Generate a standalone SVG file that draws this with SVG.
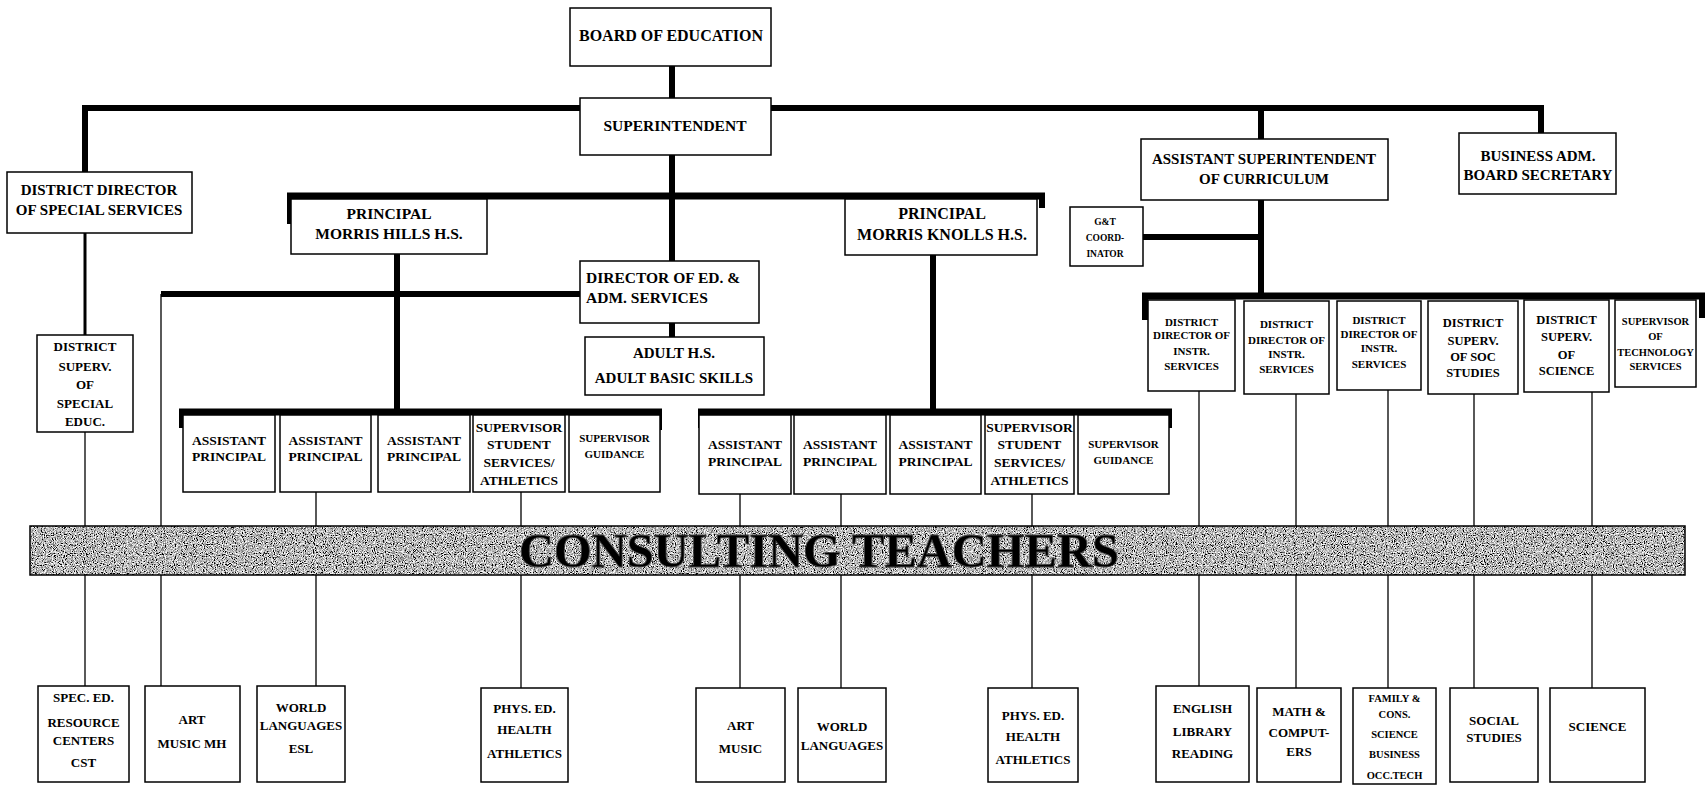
<svg xmlns="http://www.w3.org/2000/svg" width="1707" height="786" viewBox="0 0 1707 786">
<style>
.b{fill:#fff;stroke:#000;stroke-width:1.5}
.t{font-family:"Liberation Serif","Times New Roman",serif;font-weight:bold;fill:#000;text-anchor:middle}
.l{text-anchor:start}
.k{stroke:#000;stroke-width:6;fill:none}
.k7{stroke:#000;stroke-width:7;fill:none}
.m{stroke:#000;stroke-width:3;fill:none}
.n{stroke:#000;stroke-width:1.3;fill:none}
.f16{font-size:16px}.f155{font-size:15.5px}.f15{font-size:15px}.f135{font-size:13.5px}.f13{font-size:13px}
.f125{font-size:12.5px}.f11{font-size:11px}.f105{font-size:10.5px}.f95{font-size:9.5px}
</style>
<defs>
<filter id="grain" x="0" y="0" width="100%" height="100%">
<feTurbulence type="fractalNoise" baseFrequency="0.9" numOctaves="2" seed="4" result="n"/>
<feColorMatrix in="n" type="matrix" values="2.6 0 0 0 -0.82  2.6 0 0 0 -0.82  2.6 0 0 0 -0.82  0 0 0 0 1"/>
</filter>
</defs>
<rect width="1707" height="786" fill="#fff"/>
<g id="connectors">
<path class="k" d="M672 66V98"/>
<path class="k" d="M82 108H1544M85 105V172M1541 105V133M1261 108V139"/>
<path class="m" d="M85 233V335"/>
<path class="n" d="M85 432V686"/>
<path class="k" d="M672 155V261"/>
<path class="k7" d="M287 196H1045"/>
<path class="k" d="M290 193V224M1042 193V208"/>
<path class="k" d="M161 294H580"/>
<path class="n" d="M161 294V686"/>
<path class="k" d="M397 254V412"/>
<path class="k7" d="M179 412H662"/>
<path class="k" d="M182 409V428M659 409V430"/>
<path class="k" d="M672 323V337"/>
<path class="k" d="M933 255V412"/>
<path class="k7" d="M698 412H1172"/>
<path class="k" d="M701 409V428M1169 409V428"/>
<path class="k" d="M1261 200V296M1143 237H1261"/>
<path class="k7" d="M1142 296H1705"/>
<path class="k" d="M1145 293V320M1702 293V318"/>
<path class="n" d="M316 492V686M521 492V688M740 494V688M841 494V688M1032 494V688M1199 391V686M1296 393V688M1388 390V688M1474 394V688M1592 391V688"/>
</g>

<g id="board"><rect class="b" x="570" y="8" width="201" height="58"/><text class="t f16" x="671" y="41">BOARD OF EDUCATION</text></g>
<g id="superintendent"><rect class="b" x="580" y="98" width="191" height="57"/><text class="t f155" x="675" y="131">SUPERINTENDENT</text></g>
<g id="dd-special"><rect class="b" x="7" y="172" width="185" height="61"/><text class="t f15" x="99" y="195">DISTRICT DIRECTOR</text><text class="t f15" x="99" y="215">OF SPECIAL SERVICES</text></g>
<g id="ds-special"><rect class="b" x="37" y="335" width="96" height="97"/><text class="t f13" x="85" y="351">DISTRICT</text><text class="t f13" x="85" y="371">SUPERV.</text><text class="t f13" x="85" y="389">OF</text><text class="t f13" x="85" y="408">SPECIAL</text><text class="t f13" x="85" y="426">EDUC.</text></g>
<g id="principal-mh"><rect class="b" x="291" y="199" width="196" height="55"/><text class="t f155" x="389" y="219">PRINCIPAL</text><text class="t f155" x="389" y="239">MORRIS HILLS H.S.</text></g>
<g id="principal-mk"><rect class="b" x="845" y="199" width="192" height="56"/><text class="t f16" x="942" y="219">PRINCIPAL</text><text class="t f16" x="942" y="240">MORRIS KNOLLS H.S.</text></g>
<g id="director-ed"><rect class="b" x="580" y="261" width="179" height="62"/><text class="t l f155" x="586" y="283">DIRECTOR OF ED. &amp;</text><text class="t l f155" x="586" y="303">ADM. SERVICES</text></g>
<g id="adult"><rect class="b" x="585" y="337" width="179" height="58"/><text class="t f15" x="674" y="358">ADULT H.S.</text><text class="t f15" x="674" y="383">ADULT BASIC SKILLS</text></g>
<g id="asst-super"><rect class="b" x="1141" y="139" width="247" height="61"/><text class="t f15" x="1264" y="164">ASSISTANT SUPERINTENDENT</text><text class="t f15" x="1264" y="184">OF CURRICULUM</text></g>
<g id="business"><rect class="b" x="1459" y="133" width="157" height="61"/><text class="t f15" x="1538" y="161">BUSINESS ADM.</text><text class="t f15" x="1538" y="180">BOARD SECRETARY</text></g>
<g id="gt"><rect class="b" x="1070" y="207" width="73" height="59"/><text class="t f95" x="1105" y="225">G&amp;T</text><text class="t f95" x="1105" y="241">COORD-</text><text class="t f95" x="1105" y="257">INATOR</text></g>

<g id="mh-ap1"><rect class="b" x="183" y="415" width="92" height="77"/><text class="t f135" x="229" y="445">ASSISTANT</text><text class="t f135" x="229" y="461">PRINCIPAL</text></g>
<g id="mh-ap2"><rect class="b" x="280" y="415" width="91" height="77"/><text class="t f135" x="325.5" y="445">ASSISTANT</text><text class="t f135" x="325.5" y="461">PRINCIPAL</text></g>
<g id="mh-ap3"><rect class="b" x="378" y="415" width="92" height="77"/><text class="t f135" x="424" y="445">ASSISTANT</text><text class="t f135" x="424" y="461">PRINCIPAL</text></g>
<g id="mh-sss"><rect class="b" x="473" y="415" width="92" height="77"/><text class="t f135" x="519" y="432">SUPERVISOR</text><text class="t f135" x="519" y="449">STUDENT</text><text class="t f135" x="519" y="467">SERVICES/</text><text class="t f135" x="519" y="485">ATHLETICS</text></g>
<g id="mh-guid"><rect class="b" x="569" y="415" width="91" height="77"/><text class="t f11" x="614.5" y="442">SUPERVISOR</text><text class="t f11" x="614.5" y="458">GUIDANCE</text></g>

<g id="mk-ap1"><rect class="b" x="699" y="415" width="92" height="79"/><text class="t f135" x="745" y="449">ASSISTANT</text><text class="t f135" x="745" y="466">PRINCIPAL</text></g>
<g id="mk-ap2"><rect class="b" x="794" y="415" width="92" height="79"/><text class="t f135" x="840" y="449">ASSISTANT</text><text class="t f135" x="840" y="466">PRINCIPAL</text></g>
<g id="mk-ap3"><rect class="b" x="890" y="415" width="91" height="79"/><text class="t f135" x="935.5" y="449">ASSISTANT</text><text class="t f135" x="935.5" y="466">PRINCIPAL</text></g>
<g id="mk-sss"><rect class="b" x="985" y="415" width="89" height="79"/><text class="t f135" x="1029.5" y="432">SUPERVISOR</text><text class="t f135" x="1029.5" y="449">STUDENT</text><text class="t f135" x="1029.5" y="467">SERVICES/</text><text class="t f135" x="1029.5" y="485">ATHLETICS</text></g>
<g id="mk-guid"><rect class="b" x="1078" y="415" width="91" height="79"/><text class="t f11" x="1123.5" y="448">SUPERVISOR</text><text class="t f11" x="1123.5" y="464">GUIDANCE</text></g>

<g id="dd-instr1"><rect class="b" x="1148" y="300" width="87" height="91"/><text class="t f11" x="1191.5" y="326">DISTRICT</text><text class="t f11" x="1191.5" y="339">DIRECTOR OF</text><text class="t f11" x="1191.5" y="355">INSTR.</text><text class="t f11" x="1191.5" y="370">SERVICES</text></g>
<g id="dd-instr2"><rect class="b" x="1244" y="301" width="85" height="93"/><text class="t f11" x="1286.5" y="328">DISTRICT</text><text class="t f11" x="1286.5" y="344">DIRECTOR OF</text><text class="t f11" x="1286.5" y="358">INSTR.</text><text class="t f11" x="1286.5" y="373">SERVICES</text></g>
<g id="dd-instr3"><rect class="b" x="1337" y="301" width="84" height="89"/><text class="t f11" x="1379" y="324">DISTRICT</text><text class="t f11" x="1379" y="338">DIRECTOR OF</text><text class="t f11" x="1379" y="352">INSTR.</text><text class="t f11" x="1379" y="368">SERVICES</text></g>
<g id="ds-soc"><rect class="b" x="1428" y="301" width="90" height="93"/><text class="t f125" x="1473" y="327">DISTRICT</text><text class="t f125" x="1473" y="345">SUPERV.</text><text class="t f125" x="1473" y="361">OF SOC</text><text class="t f125" x="1473" y="377">STUDIES</text></g>
<g id="ds-sci"><rect class="b" x="1524" y="300" width="85" height="92"/><text class="t f125" x="1566.5" y="324">DISTRICT</text><text class="t f125" x="1566.5" y="341">SUPERV.</text><text class="t f125" x="1566.5" y="359">OF</text><text class="t f125" x="1566.5" y="375">SCIENCE</text></g>
<g id="sup-tech"><rect class="b" x="1615" y="300" width="81" height="87"/><text class="t f105" x="1655.5" y="325">SUPERVISOR</text><text class="t f105" x="1655.5" y="340">OF</text><text class="t f105" x="1655.5" y="356">TECHNOLOGY</text><text class="t f105" x="1655.5" y="370">SERVICES</text></g>

<g id="consulting-teachers">
<rect x="30" y="526" width="1655" height="49" filter="url(#grain)"/>
<rect x="30" y="526" width="1655" height="49" fill="none" stroke="#000" stroke-width="1.5"/>
<text class="t" x="819" y="567" font-size="49" textLength="600" lengthAdjust="spacingAndGlyphs" stroke="#444" stroke-width="0.8">CONSULTING TEACHERS</text>
</g>

<g id="spec-ed"><rect class="b" x="38" y="686" width="91" height="96"/><text class="t f13" x="83.5" y="702">SPEC. ED.</text><text class="t f13" x="83.5" y="727">RESOURCE</text><text class="t f13" x="83.5" y="745">CENTERS</text><text class="t f13" x="83.5" y="767">CST</text></g>
<g id="art-mh"><rect class="b" x="145" y="686" width="95" height="96"/><text class="t f13" x="192" y="724">ART</text><text class="t f13" x="192" y="748">MUSIC MH</text></g>
<g id="wl-esl"><rect class="b" x="257" y="686" width="88" height="96"/><text class="t f13" x="301" y="712">WORLD</text><text class="t f13" x="301" y="730">LANGUAGES</text><text class="t f13" x="301" y="753">ESL</text></g>
<g id="phys-mh"><rect class="b" x="481" y="688" width="87" height="94"/><text class="t f13" x="524.5" y="713">PHYS. ED.</text><text class="t f13" x="524.5" y="734">HEALTH</text><text class="t f13" x="524.5" y="758">ATHLETICS</text></g>
<g id="art-mk"><rect class="b" x="696" y="688" width="89" height="94"/><text class="t f13" x="740.5" y="730">ART</text><text class="t f13" x="740.5" y="753">MUSIC</text></g>
<g id="wl-mk"><rect class="b" x="798" y="688" width="88" height="94"/><text class="t f13" x="842" y="731">WORLD</text><text class="t f13" x="842" y="750">LANGUAGES</text></g>
<g id="phys-mk"><rect class="b" x="988" y="688" width="90" height="94"/><text class="t f13" x="1033" y="720">PHYS. ED.</text><text class="t f13" x="1033" y="741">HEALTH</text><text class="t f13" x="1033" y="764">ATHLETICS</text></g>
<g id="english"><rect class="b" x="1156" y="686" width="93" height="96"/><text class="t f13" x="1202.5" y="713">ENGLISH</text><text class="t f13" x="1202.5" y="736">LIBRARY</text><text class="t f13" x="1202.5" y="758">READING</text></g>
<g id="math"><rect class="b" x="1257" y="688" width="84" height="94"/><text class="t f13" x="1299" y="716">MATH &amp;</text><text class="t f13" x="1299" y="737">COMPUT-</text><text class="t f13" x="1299" y="756">ERS</text></g>
<g id="family"><rect class="b" x="1353" y="688" width="83" height="96"/><text class="t f105" x="1394.5" y="702">FAMILY &amp;</text><text class="t f105" x="1394.5" y="718">CONS.</text><text class="t f105" x="1394.5" y="738">SCIENCE</text><text class="t f105" x="1394.5" y="758">BUSINESS</text><text class="t f105" x="1394.5" y="779">OCC.TECH</text></g>
<g id="social"><rect class="b" x="1450" y="688" width="88" height="94"/><text class="t f13" x="1494" y="725">SOCIAL</text><text class="t f13" x="1494" y="742">STUDIES</text></g>
<g id="science"><rect class="b" x="1550" y="688" width="95" height="94"/><text class="t f13" x="1597.5" y="731">SCIENCE</text></g>
</svg>
